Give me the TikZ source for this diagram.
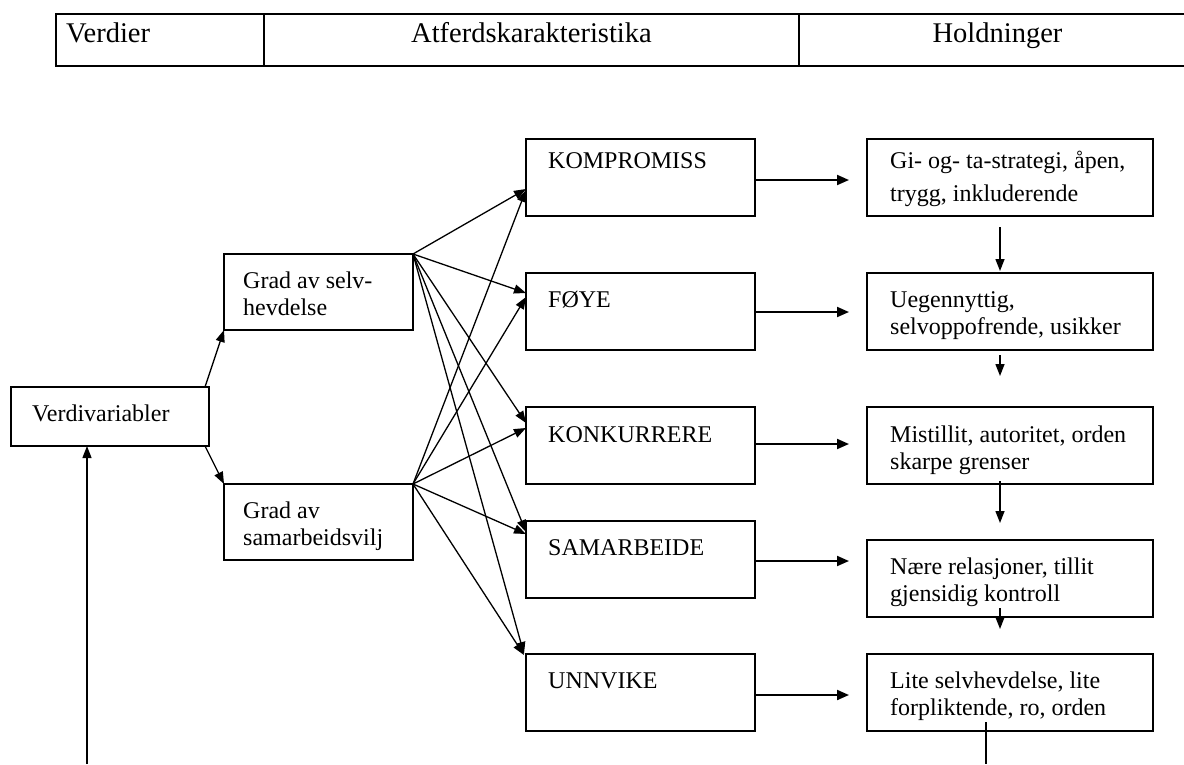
\documentclass[tikz,border=0pt]{standalone}
\usepackage{fontspec}
\setmainfont{Liberation Serif}
\usetikzlibrary{arrows.meta}
\newcommand\bodyfont{\fontsize{24}{27}\selectfont}
\newcommand\headfont{\fontsize{28.5}{33}\selectfont}
\newcommand\lines[2][27]{\parbox[t]{320pt}{\fontsize{24}{#1}\selectfont\raggedright #2}}
\begin{document}
\begin{tikzpicture}[x=1pt,y=-1pt,
  hcell/.style={draw,line width=2.2pt,rectangle,anchor=north west,inner sep=0pt,outer sep=0pt,minimum height=52pt},
  box/.style={draw,line width=1.6pt,rectangle,anchor=north west,inner sep=0pt,outer sep=0pt},
  midbox/.style={box,minimum width=229pt,minimum height=77pt},
  rbox/.style={box,minimum width=286pt,minimum height=77pt},
  gbox/.style={box,minimum width=189pt,minimum height=76pt},
  txt/.style={anchor=base west,inner sep=0pt,font=\bodyfont},
  htxt/.style={anchor=base,inner sep=0pt,font=\headfont},
  fan/.style={line width=1.3pt,-{Triangle[length=12pt,width=9pt]}},
  harr/.style={line width=2pt,-{Triangle[length=12pt,width=10pt]}},
  varr/.style={line width=1.4pt,-{Triangle[length=12pt,width=9pt]}},
  plain/.style={line width=1.4pt}]
\clip (0,0) rectangle (1184,764);
\fill[white] (0,0) rectangle (1184,764);

% header table
\node[hcell,minimum width=208pt] (hc1) at (56,14) {};
\node[hcell,minimum width=535pt] (hc2) at (264,14) {};
\node[hcell,minimum width=420pt] (hc3) at (799,14) {};
\node[htxt,anchor=base west] (ht1) at (66,42) {Verdier};
\node[htxt] (ht2) at (531.5,42) {Atferdskarakteristika};
\node[htxt] (ht3) at (997.5,42) {Holdninger};

% value variables
\node[box,minimum width=198pt,minimum height=59pt] (vv) at (11,387) {};
\node[txt] (vvt) at (32,421) {Verdivariabler};
\node[gbox] (gs) at (224,254) {};
\node[txt] (gst) at (243,288) {\lines{Grad av selv-\\hevdelse}};
\node[gbox] (gc) at (224,484) {};
\node[txt] (gct) at (243,518) {\lines{Grad av\\samarbeidsvilj}};

% behaviour styles
\node[midbox] (kom) at (526,139) {};
\node[txt] (komt) at (548,168) {KOMPROMISS};
\node[midbox] (foy) at (526,273) {};
\node[txt] (foyt) at (548,307) {FØYE};
\node[midbox] (kon) at (526,407) {};
\node[txt] (kont) at (548,442) {KONKURRERE};
\node[midbox] (sam) at (526,521) {};
\node[txt] (samt) at (548,555) {SAMARBEIDE};
\node[midbox] (unn) at (526,654) {};
\node[txt] (unnt) at (548,688) {UNNVIKE};

% attitudes
\node[rbox] (gi) at (867,139) {};
\node[txt] (git) at (890,168) {\lines[33]{Gi- og- ta-strategi, åpen,\\trygg, inkluderende}};
\node[rbox] (ueg) at (867,273) {};
\node[txt] (uegt) at (890,307) {\lines{Uegennyttig,\\selvoppofrende, usikker}};
\node[rbox] (mis) at (867,407) {};
\node[txt] (mist) at (890,442) {\lines{Mistillit, autoritet, orden\\skarpe grenser}};
\node[rbox] (nar) at (867,540) {};
\node[txt] (nart) at (890,574) {\lines{Nære relasjoner, tillit\\gjensidig kontroll}};
\node[rbox] (lit) at (867,654) {};
\node[txt] (litt) at (890,688) {\lines{Lite selvhevdelse, lite\\forpliktende, ro, orden}};

% value variables to the two dimensions
\draw[fan] ([xshift=-4pt]vv.north east) -- (gs.south west);
\draw[fan] ([xshift=-4pt]vv.south east) -- (gc.north west);
\coordinate (vvfoot) at (87,764);
\draw[fan] (vvfoot) -- (vvfoot |- vv.south);

% both dimensions feed every style
\draw[fan] (gs.north east) -- ([yshift=-50pt]kom.north west);
\draw[fan] (gs.north east) -- ([yshift=-20pt]foy.north west);
\draw[fan] (gs.north east) -- ([yshift=-16pt]kon.north west);
\draw[fan] (gs.north east) -- ([yshift=-11pt]sam.north west);
\draw[fan] (gs.north east) -- ([xshift=-2pt]unn.north west);
\draw[fan] (gc.north east) -- ([yshift=-51pt]kom.north west);
\draw[fan] (gc.north east) -- ([yshift=-24pt]foy.north west);
\draw[fan] (gc.north east) -- ([yshift=-21pt]kon.north west);
\draw[fan] (gc.north east) -- ([yshift=-13pt]sam.north west);
\draw[fan] (gc.north east) -- ([xshift=-2pt,yshift=-1pt]unn.north west);

% styles to attitudes
\draw[harr] ([yshift=-41pt]kom.north east) -- ([xshift=-18pt,yshift=-41pt]gi.north west);
\draw[harr] ([yshift=-39pt]foy.north east) -- ([xshift=-18pt,yshift=-39pt]ueg.north west);
\draw[harr] ([yshift=-37pt]kon.north east) -- ([xshift=-18pt,yshift=-37pt]mis.north west);
\draw[harr] ([yshift=-40pt]sam.north east) -- ([xshift=-18pt,yshift=-21pt]nar.north west);
\draw[harr] ([yshift=-41pt]unn.north east) -- ([xshift=-18pt,yshift=-41pt]lit.north west);

% chain between attitudes
\draw[varr] ([xshift=133pt,yshift=-11pt]gi.south west) -- ([xshift=133pt,yshift=2pt]ueg.north west);
\draw[varr] ([xshift=133pt,yshift=-5pt]ueg.south west) -- ([xshift=133pt,yshift=-26pt]ueg.south west);
\draw[varr] ([xshift=133pt,yshift=3pt]mis.south west) -- ([xshift=133pt,yshift=17pt]nar.north west);
\draw[varr] ([xshift=133pt,yshift=9pt]nar.south west) -- ([xshift=133pt,yshift=25pt]lit.north west);
\coordinate (litfoot) at (986,764);
\draw[plain] ([xshift=119pt,yshift=9pt]lit.south west) -- (litfoot);
\end{tikzpicture}
\end{document}
